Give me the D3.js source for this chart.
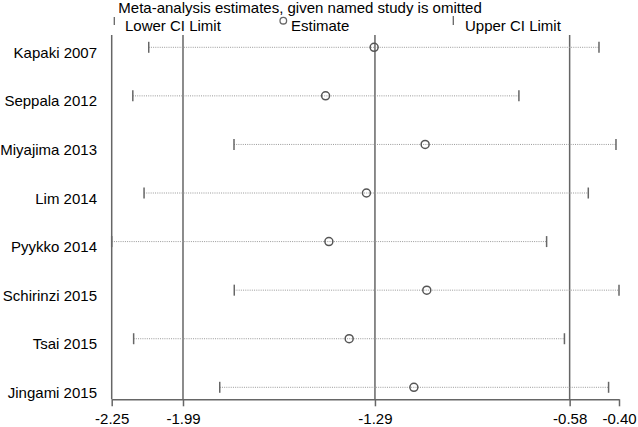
<!DOCTYPE html>
<html>
<head>
<meta charset="utf-8">
<script src="https://cdn.jsdelivr.net/npm/d3@7"></script>
<style>
  body { margin: 0; background: #fff; }
  svg { display: block; font-family: "Liberation Sans", Arial, sans-serif; }
</style>
</head>
<body>
<svg id="chart" width="638" height="427"></svg>
<script>
// studies, omitted one at a time
const studies = ["Kapaki 2007", "Seppala 2012", "Miyajima 2013", "Lim 2014",
                 "Pyykko 2014", "Schirinzi 2015", "Tsai 2015", "Jingami 2015"];
const lowerCI  = [-2.115, -2.173, -1.804, -2.132, -2.25, -1.803, -2.170, -1.856];
const estimate = [-1.293, -1.470, -1.107, -1.321, -1.458, -1.101, -1.384, -1.148];
const upperCI  = [-0.473, -0.765, -0.411, -0.512, -0.664, -0.400, -0.599, -0.438];
const tickValues = [-2.25, -1.99, -1.29, -0.58, -0.40];
const refLines = [-2.25, -1.99, -1.29, -0.58];

const rows = studies.map((s, i) => ({study: s, lo: lowerCI[i], est: estimate[i], hi: upperCI[i]}));

const MARGIN = {top: 35, left: 111.7, right: 19, bottom: 27.7};
const WIDTH = 638, HEIGHT = 427;
const DARK = "#666";
const FONT = 15;

const svg = d3.select("#chart");

const xScale = d3.scaleLinear()
    .domain([-2.25, -0.40])
    .range([MARGIN.left, WIDTH - MARGIN.right]);

const yScale = d3.scalePoint()
    .domain(studies)
    .range([47.3, 387.3]);

const axisY = HEIGHT - MARGIN.bottom;

// title + legend
svg.append("text")
    .attr("x", 118.3).attr("y", 12.5)
    .attr("font-size", FONT)
    .text("Meta-analysis estimates, given named study is omitted");

const legend = svg.append("g");
legend.append("line")
    .attr("x1", 114.3).attr("x2", 114.3).attr("y1", 17).attr("y2", 25)
    .attr("stroke", DARK).attr("stroke-width", 1.3);
legend.append("text").attr("x", 125).attr("y", 31).attr("font-size", FONT).text("Lower CI Limit");
legend.append("circle")
    .attr("cx", 283.3).attr("cy", 20.7).attr("r", 3.3)
    .attr("fill", "none").attr("stroke", DARK).attr("stroke-width", 1.3);
legend.append("text").attr("x", 291).attr("y", 31).attr("font-size", FONT).text("Estimate");
legend.append("line")
    .attr("x1", 453.3).attr("x2", 453.3).attr("y1", 16).attr("y2", 25)
    .attr("stroke", DARK).attr("stroke-width", 1.3);
legend.append("text").attr("x", 465).attr("y", 31).attr("font-size", FONT).text("Upper CI Limit");

// vertical reference lines
svg.append("g").selectAll("line")
    .data(refLines)
    .join("line")
    .attr("x1", d => xScale(d)).attr("x2", d => xScale(d))
    .attr("y1", MARGIN.top).attr("y2", axisY)
    .attr("stroke", DARK).attr("stroke-width", 1.5);

// x axis
const xAxis = d3.axisBottom(xScale)
    .tickValues(tickValues)
    .tickFormat(d => d.toFixed(2))
    .tickSize(7)
    .tickSizeOuter(0);

const axisG = svg.append("g")
    .attr("transform", `translate(0, ${axisY})`)
    .call(xAxis);
axisG.select(".domain").attr("stroke", DARK).attr("stroke-width", 1.5);
axisG.selectAll(".tick line").attr("stroke", DARK).attr("stroke-width", 1.5);
axisG.selectAll(".tick text")
    .attr("fill", "#000")
    .attr("font-size", FONT)
    .attr("font-family", "Liberation Sans, Arial, sans-serif")
    .attr("y", 25)
    .attr("dy", null);

// study rows
const rowG = svg.append("g").selectAll("g")
    .data(rows)
    .join("g");

rowG.append("line")
    .attr("x1", d => xScale(Math.max(d.lo, -2.25))).attr("x2", d => xScale(d.hi))
    .attr("y1", d => yScale(d.study)).attr("y2", d => yScale(d.study))
    .attr("stroke", "#999").attr("stroke-width", 1)
    .attr("stroke-dasharray", "1,1.2");

rowG.append("line")
    .attr("x1", d => xScale(d.lo)).attr("x2", d => xScale(d.lo))
    .attr("y1", d => yScale(d.study) - 5.5).attr("y2", d => yScale(d.study) + 5.5)
    .attr("stroke", DARK).attr("stroke-width", 1.5);

rowG.append("line")
    .attr("x1", d => xScale(d.hi)).attr("x2", d => xScale(d.hi))
    .attr("y1", d => yScale(d.study) - 5.5).attr("y2", d => yScale(d.study) + 5.5)
    .attr("stroke", DARK).attr("stroke-width", 1.5);

rowG.append("circle")
    .attr("cx", d => xScale(d.est))
    .attr("cy", d => yScale(d.study))
    .attr("r", 4)
    .attr("fill", "none")
    .attr("stroke", "#555").attr("stroke-width", 1.5);

rowG.append("text")
    .attr("x", 97)
    .attr("y", d => yScale(d.study) + 10.5)
    .attr("text-anchor", "end")
    .attr("font-size", FONT)
    .text(d => d.study);
</script>
</body>
</html>
